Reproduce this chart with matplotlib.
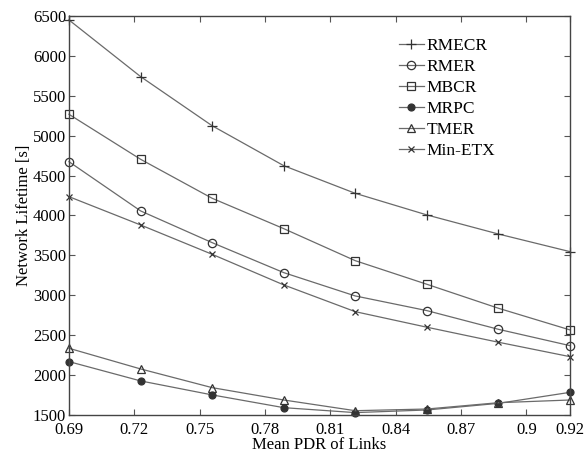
import numpy as np
import matplotlib
matplotlib.use("Agg")
import matplotlib.pyplot as plt

# mean PDR of links (8 equally spaced points)
pdr = [0.69, 0.7229, 0.7557, 0.7886, 0.8214, 0.8543, 0.8871, 0.92]

rmecr = [6450, 5740, 5125, 4624, 4278, 4007, 3768, 3547]
rmer = [4674, 4057, 3660, 3284, 2992, 2808, 2574, 2369]
mbcr = [5268, 4704, 4216, 3835, 3434, 3138, 2838, 2566]
mrpc = [2169, 1927, 1752, 1592, 1530, 1563, 1646, 1784]
tmer = [2336, 2077, 1843, 1688, 1554, 1575, 1654, 1688]
min_etx = [4236, 3881, 3514, 3130, 2795, 2600, 2412, 2231]

xticks = [0.69, 0.72, 0.75, 0.78, 0.81, 0.84, 0.87, 0.9, 0.92]
xtick_labels = ["0.69", "0.72", "0.75", "0.78", "0.81", "0.84", "0.87", "0.9", "0.92"]
yticks = [1500, 2000, 2500, 3000, 3500, 4000, 4500, 5000, 5500, 6000, 6500]

plt.rcParams["font.family"] = ["Liberation Serif", "DejaVu Serif"]
plt.rcParams["font.size"] = 12

fig = plt.figure(figsize=(5.86, 4.54), dpi=100)
ax = fig.add_axes([0.1177, 0.0859, 0.8550, 0.8789])

line_c = "#6a6a6a"
mk_c = "#333333"
series = [
    ("RMECR", rmecr, dict(marker="+", mfc=mk_c, ms=6.5)),
    ("RMER", rmer, dict(marker="o", mfc="none", ms=6)),
    ("MBCR", mbcr, dict(marker="s", mfc="none", ms=5.5)),
    ("MRPC", mrpc, dict(marker="o", mfc=mk_c, ms=5)),
    ("TMER", tmer, dict(marker="^", mfc="none", ms=6)),
    ("Min-ETX", min_etx, dict(marker="x", mfc=mk_c, ms=4.5)),
]
for name, vals, kw in series:
    ax.plot(pdr, vals, color=line_c, lw=0.9, mec=mk_c, mew=0.9, label=name,
            clip_on=False, **kw)

ax.set_xlim(0.69, 0.92)
ax.set_ylim(1500, 6500)
ax.set_xticks(xticks)
ax.set_xticklabels(xtick_labels)
ax.set_yticks(yticks)
ax.tick_params(direction="in", top=True, right=True, length=4, width=0.8,
               color="#555555", pad=2)
ax.tick_params(axis="x", pad=5)
for sp in ax.spines.values():
    sp.set_color("#444444")
    sp.set_linewidth(1.0)

ax.set_xlabel("Mean PDR of Links", labelpad=-1)
ax.set_ylabel("Network Lifetime [s]", labelpad=1)

ax.legend(loc="upper left", bbox_to_anchor=(0.635, 0.975), frameon=False,
          handlelength=1.4, handletextpad=0.15, labelspacing=0.28,
          borderpad=0.2, fontsize=12.5)

fig.savefig("out.png", dpi=100)
